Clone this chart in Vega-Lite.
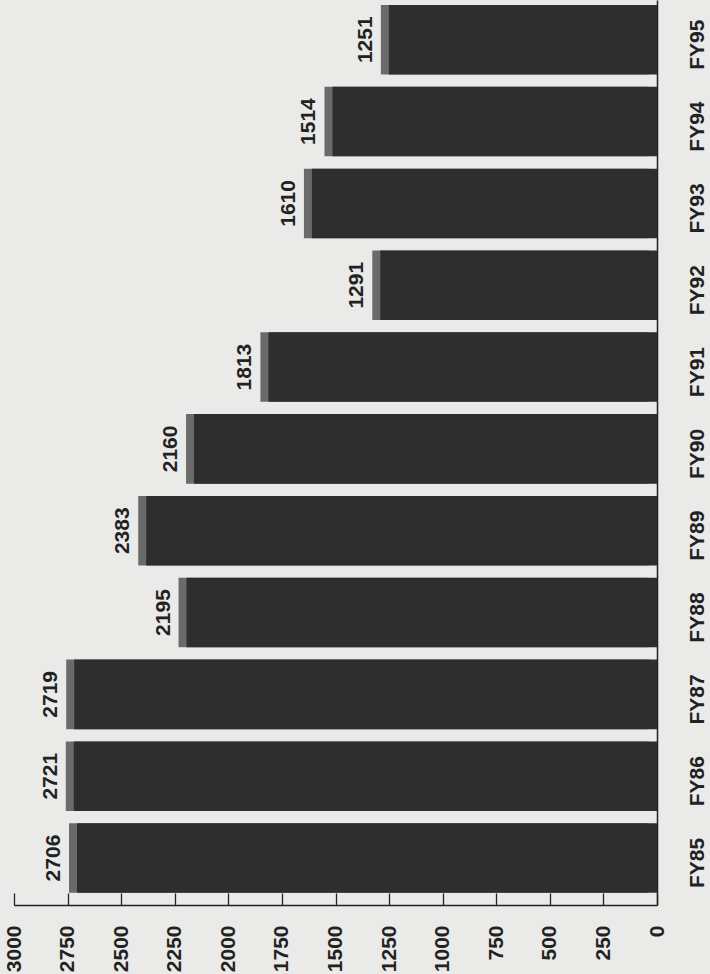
{
  "$schema": "https://vega.github.io/schema/vega-lite/v6.json",
  "width": 643,
  "height": 905,
  "autosize": {"type": "none"},
  "padding": {"left": 14, "top": 0, "right": 53, "bottom": 69},
  "background": "#eaeae8",
  "config": {"view": {"stroke": null}, "font": "Liberation Sans"},
  "data": {
    "values": [
      {"fy": "FY85", "value": 2706},
      {"fy": "FY86", "value": 2721},
      {"fy": "FY87", "value": 2719},
      {"fy": "FY88", "value": 2195},
      {"fy": "FY89", "value": 2383},
      {"fy": "FY90", "value": 2160},
      {"fy": "FY91", "value": 1813},
      {"fy": "FY92", "value": 1291},
      {"fy": "FY93", "value": 1610},
      {"fy": "FY94", "value": 1514},
      {"fy": "FY95", "value": 1251}
    ]
  },
  "encoding": {
    "y": {
      "field": "fy",
      "type": "nominal",
      "sort": "descending",
      "scale": {"paddingInner": 0.15, "paddingOuter": 0.105, "align": 0.29},
      "axis": {
        "orient": "right",
        "title": null,
        "ticks": false,
        "domain": true,
        "domainColor": "#222",
        "domainWidth": 1.5,
        "labelAngle": 270,
        "labelAlign": "center",
        "labelBaseline": "top",
        "labelPadding": 29,
        "labelFont": "Liberation Sans",
        "labelFontWeight": "bold",
        "labelFontSize": 21,
        "labelColor": "#222",
        "labelOffset": 5
      }
    },
    "x": {
      "field": "value",
      "type": "quantitative",
      "scale": {"domain": [0, 3000], "reverse": true, "nice": false},
      "axis": {
        "orient": "bottom",
        "title": null,
        "values": [0, 250, 500, 750, 1000, 1250, 1500, 1750, 2000, 2250, 2500, 2750, 3000],
        "grid": false,
        "tickSize": -12,
        "tickColor": "#222",
        "tickWidth": 1.3,
        "domainColor": "#222",
        "domainWidth": 1.5,
        "labelAngle": 270,
        "labelAlign": "right",
        "labelBaseline": "middle",
        "labelPadding": 32,
        "labelFont": "Liberation Sans",
        "labelFontSize": 21,
        "labelFontWeight": "bold",
        "labelColor": "#222",
        "labelFlush": false,
        "labelOverlap": false,
        "format": "d"
      }
    }
  },
  "layer": [
    {"mark": {"type": "bar", "color": "#6a6a6a", "xOffset": -8, "x2Offset": -8}},
    {"mark": {"type": "bar", "color": "#2e2e2e"}},
    {
      "mark": {
        "type": "text",
        "angle": 270,
        "align": "center",
        "baseline": "alphabetic",
        "xOffset": -17,
        "font": "Liberation Sans",
        "fontWeight": "bold",
        "fontSize": 21,
        "color": "#222"
      },
      "encoding": {"text": {"field": "value", "type": "quantitative", "format": "d"}}
    }
  ]
}
